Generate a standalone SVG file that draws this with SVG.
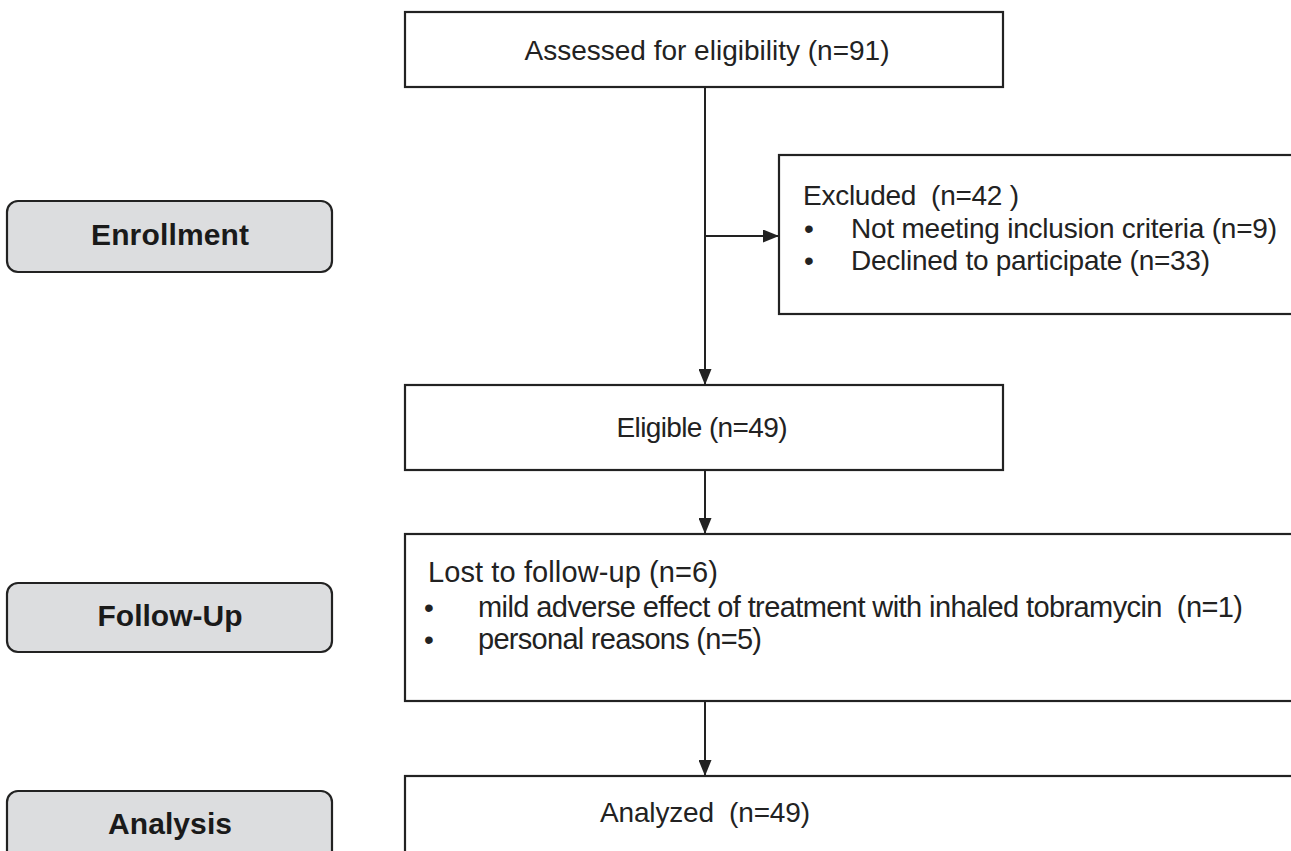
<svg xmlns="http://www.w3.org/2000/svg" width="1291" height="851" viewBox="0 0 1291 851">
<style>
.box{fill:#fff;stroke:#222;stroke-width:2.2}
.stage{fill:#dcdddf;stroke:#222;stroke-width:2.2}
.t{font-family:"Liberation Sans",Arial,sans-serif;font-size:28px;fill:#222}
.tl{font-size:29px}
.tc{text-anchor:middle}
.sb{font-family:"Liberation Sans",Arial,sans-serif;font-size:30px;font-weight:bold;fill:#1a1a1a;text-anchor:middle}
.ln{stroke:#222;stroke-width:2;fill:none}
</style>
<defs>
<marker id="ah" viewBox="0 0 16 13" refX="16" refY="6.5" markerWidth="16" markerHeight="13" markerUnits="userSpaceOnUse" orient="auto">
<path d="M0,0 L16,6.5 L0,13 z" fill="#222"/>
</marker>
</defs>
<rect width="1291" height="851" fill="#fff"/>
<g id="stage-enrollment">
<rect class="stage" x="7" y="201" width="325" height="71" rx="11"/>
<text class="sb" x="170" y="245" textLength="158">Enrollment</text>
</g>
<g id="stage-followup">
<rect class="stage" x="7" y="583" width="325" height="69" rx="11"/>
<text class="sb" x="170" y="626" textLength="145">Follow-Up</text>
</g>
<g id="stage-analysis">
<rect class="stage" x="7" y="791" width="325" height="80" rx="11"/>
<text class="sb" x="170" y="834" textLength="124">Analysis</text>
</g>
<g id="assessed">
<rect class="box" x="405" y="12" width="598" height="75"/>
<text class="t tc" x="707" y="60" textLength="365">Assessed for eligibility (n=91)</text>
</g>
<g id="excluded">
<rect class="box" x="779" y="155" width="520" height="159"/>
<text class="t" x="803" y="205" textLength="216" xml:space="preserve">Excluded  (n=42 )</text>
<text class="t" x="804" y="238">•</text>
<text class="t" x="851" y="238" textLength="426">Not meeting inclusion criteria (n=9)</text>
<text class="t" x="804" y="270">•</text>
<text class="t" x="851" y="270" textLength="359">Declined to participate (n=33)</text>
</g>
<g id="eligible">
<rect class="box" x="405" y="385" width="598" height="85"/>
<text class="t tc" x="702" y="437" textLength="171">Eligible (n=49)</text>
</g>
<g id="lost">
<rect class="box" x="405" y="534" width="894" height="167"/>
<text class="t tl" x="428" y="582" textLength="290">Lost to follow-up (n=6)</text>
<text class="t" x="424" y="617">•</text>
<text class="t tl" x="478" y="617" textLength="765" xml:space="preserve">mild adverse effect of treatment with inhaled tobramycin  (n=1)</text>
<text class="t" x="424" y="649">•</text>
<text class="t tl" x="478" y="649" textLength="284">personal reasons (n=5)</text>
</g>
<g id="analyzed">
<rect class="box" x="405" y="776" width="894" height="90"/>
<text class="t tc" x="705" y="822" textLength="210" xml:space="preserve">Analyzed  (n=49)</text>
</g>
<g id="connectors">
<line class="ln" x1="705" y1="87" x2="705" y2="385" marker-end="url(#ah)"/>
<line class="ln" x1="705" y1="236" x2="779" y2="236" marker-end="url(#ah)"/>
<line class="ln" x1="705" y1="470" x2="705" y2="534" marker-end="url(#ah)"/>
<line class="ln" x1="705" y1="701" x2="705" y2="776" marker-end="url(#ah)"/>
</g>
</svg>
